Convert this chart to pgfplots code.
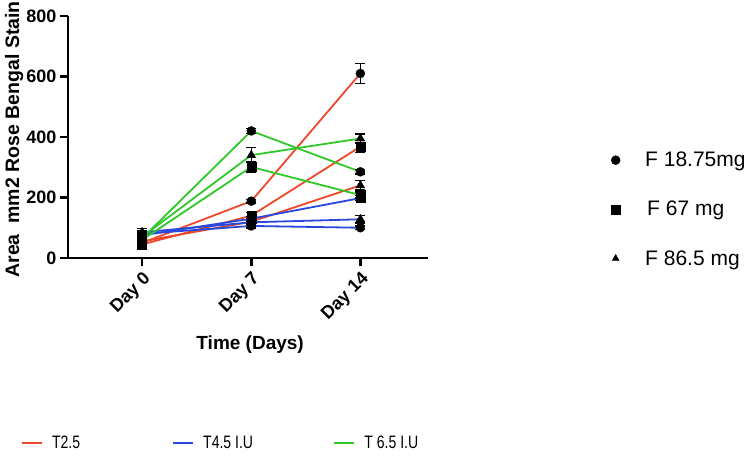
\documentclass[border=0pt]{standalone}
\usepackage{pgfplots}
\pgfplotsset{compat=1.18}
\usepackage{graphicx}
\usepackage{fontspec}
\setmainfont{Liberation Sans}
\definecolor{cred}{RGB}{238,72,42}
\definecolor{cblue}{RGB}{40,72,222}
\definecolor{cgreen}{RGB}{48,200,40}
\pgfplotsset{
  ser/.style={color=#1, line width=1.8pt, forget plot,
    mark options={black, fill=black, solid, line width=0.4pt},
    /pgfplots/error bars/y dir=both,
    /pgfplots/error bars/y explicit,
    /pgfplots/error bars/error bar style={black, line width=1.5pt},
    /pgfplots/error bars/error mark options={black, rotate=90, mark size=5pt, line width=1.5pt}},
}
\begin{document}
\begin{tikzpicture}
\useasboundingbox (0,0) rectangle (750pt,456pt);
\begin{axis}[
  at={(68pt,198pt)}, anchor=south west,
  scale only axis, width=360pt, height=242pt,
  xmin=-0.68, xmax=2.62, ymin=0, ymax=800,
  axis x line*=bottom, axis y line*=left,
  axis line style={line width=2.5pt, black},
  xtick={0,1,2}, xticklabels={Day 0, Day 7, Day 14},
  ytick={0,200,400,600,800},
  tick style={line width=2.5pt, black},
  major tick length=8pt,
  tick align=outside,
  xticklabel style={rotate=45, anchor=north east, font=\fontsize{18}{18}\selectfont\bfseries},
  yticklabel style={font=\fontsize{18}{18}\selectfont\bfseries},
  /pgf/number format/assume math mode=true,
  xlabel={Time (Days)},
  ylabel={Area\ \ mm2 Rose Bengal Stain},
  xlabel style={at={(axis description cs:0.506,-0.358)}, anchor=center, font=\fontsize{19}{19}\selectfont\bfseries},
  ylabel style={at={(axis description cs:-0.15,0.49)}, anchor=center, font=\fontsize{19.5}{19.5}\selectfont\bfseries},
  clip=false,
  legend cell align=left,
  legend style={draw=none, fill=none, at={(axis description cs:1.50,0.455)}, anchor=north west,
    font=\fontsize{21}{21}\selectfont, row sep=29pt},
]
% red
\addplot[ser=cred, mark=*, mark size=4.5pt] coordinates {(0,50) +- (0,8) (1,188) +- (0,6) (2,610) +- (0,33)};
\addplot[ser=cred, mark=square*, mark size=4.5pt] coordinates {(0,45) +- (0,6) (1,140) +- (0,10) (2,368) +- (0,20)};
\addplot[ser=cred, mark=triangle*, mark size=5pt] coordinates {(0,55) +- (0,6) (1,120) +- (0,6) (2,240) +- (0,16)};
% blue
\addplot[ser=cblue, mark=*, mark size=4.5pt] coordinates {(0,80) +- (0,10) (1,106) +- (0,6) (2,100) +- (0,6)};
\addplot[ser=cblue, mark=square*, mark size=4.5pt] coordinates {(0,75) +- (0,8) (1,130) +- (0,8) (2,198) +- (0,8)};
\addplot[ser=cblue, mark=triangle*, mark size=5pt] coordinates {(0,85) +- (0,12) (1,118) +- (0,6) (2,128) +- (0,12)};
% green
\addplot[ser=cgreen, mark=*, mark size=4.5pt] coordinates {(0,65) +- (0,8) (1,420) +- (0,8) (2,285) +- (0,8)};
\addplot[ser=cgreen, mark=square*, mark size=4.5pt] coordinates {(0,60) +- (0,8) (1,301) +- (0,16) (2,208) +- (0,10)};
\addplot[ser=cgreen, mark=triangle*, mark size=5pt] coordinates {(0,70) +- (0,8) (1,340) +- (0,25) (2,395) +- (0,15)};
% marker legend
\addlegendimage{only marks, mark=*, black, mark size=4.5pt}
\addlegendentry{\hspace{23pt}F 18.75mg}
\addlegendimage{only marks, mark=square*, black, mark size=4.5pt}
\addlegendentry{\hspace{25pt}F 67 mg}
\addlegendimage{only marks, mark=triangle*, black, mark size=4pt}
\addlegendentry{\hspace{23pt}F 86.5 mg}
\end{axis}
\begin{axis}[
  at={(68pt,198pt)}, anchor=south west,
  scale only axis, width=360pt, height=242pt,
  xmin=0, xmax=1, ymin=0, ymax=1, hide axis,
  legend columns=3,
  legend cell align=left,
  legend image code/.code={\draw[#1, line width=2.2pt] (0pt,0pt) -- (20pt,0pt);},
  legend style={draw=none, fill=none, at={(axis description cs:-0.14,-0.765)}, anchor=west,
    font=\fontsize{18}{18}\selectfont},
]
\addlegendimage{cred}
\addlegendentry{\hspace{7pt}\makebox[118pt][l]{\scalebox{0.78}[1]{T2.5}}}
\addlegendimage{cblue}
\addlegendentry{\hspace{7pt}\makebox[128pt][l]{\scalebox{0.78}[1]{T4.5 I.U}}}
\addlegendimage{cgreen}
\addlegendentry{\hspace{7pt}\scalebox{0.78}[1]{T 6.5 I.U}}
\end{axis}
\end{tikzpicture}
\end{document}
